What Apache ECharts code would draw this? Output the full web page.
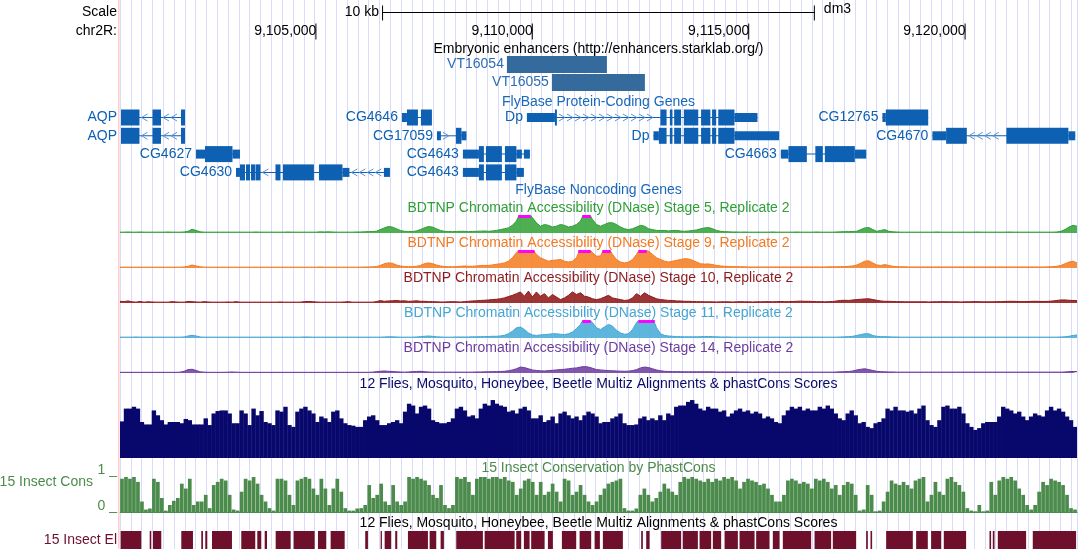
<!DOCTYPE html>
<html><head><meta charset="utf-8">
<script src="https://cdn.jsdelivr.net/npm/echarts@6/dist/echarts.min.js"></script>
<style>html,body{margin:0;padding:0;background:#fff}#c{width:1078px;height:549px}</style>
</head><body><div id="c"></div>
<script>
// ---------------- data ----------------
const VIEW_START = 9100485, VIEW_END = 9122597;
const positionTicks = [9105000, 9110000, 9115000, 9120000];
const scaleBar = [9106540, 9116540];
const scaleLabel = '10 kb';
const assembly = 'dm3';
const enhancerNames = ['VT16054', 'VT16055'];
const enhancerSpans = [[9109425, 9111735], [9110464, 9112613]];
const geneNames = ['AQP','AQP','CG4627','CG4630','CG4646','CG17059','CG4643','CG4643','Dp','Dp','CG4663','CG12765','CG4670'];
const geneRows = [0,1,2,3,0,1,2,3,0,1,2,0,1];
const geneStrands = ['-','-','+','-','-','+','-','-','+','+','-','-','-'];
// blocks: [start, end, thick(1)/utr(0)]
const geneBlocks = [
 [[9100508,9100935,1],[9101236,9101432,1],[9101894,9101987,1]],
 [[9100508,9100935,1],[9101236,9101432,1],[9101894,9101987,1]],
 [[9102241,9102449,0],[9102449,9103084,1],[9103084,9103257,0]],
 [[9103165,9103257,0],[9103257,9103373,1],[9103396,9103488,1],[9103511,9103604,1],[9103615,9103731,1],[9104077,9104193,1],[9104250,9104966,1],[9105082,9105625,1],[9105625,9105786,0],[9106583,9106722,0]],
 [[9106999,9107115,0],[9107115,9107369,1],[9107438,9107692,1]],
 [[9107808,9107900,0],[9108247,9108374,1],[9108374,9108489,0]],
 [[9108408,9108778,0],[9108778,9108893,1],[9108940,9109309,1],[9109379,9109644,1],[9109644,9109771,0],[9109817,9109956,0]],
 [[9108408,9108778,0],[9108778,9108893,1],[9108940,9109309,1],[9109379,9109644,1],[9109644,9109817,0]],
 [[9109887,9110534,0],[9110534,9110580,1],[9112971,9113114,1],[9113190,9113250,1],[9113289,9113449,1],[9113513,9113846,1],[9113911,9114126,1],[9114165,9114260,1],[9114308,9114682,1],[9114682,9115214,0]],
 [[9112811,9112936,0],[9112936,9113114,1],[9113190,9113250,1],[9113289,9113449,1],[9113513,9113846,1],[9113911,9114126,1],[9114165,9114260,1],[9114308,9114682,1],[9114682,9115715,0]],
 [[9115754,9115930,0],[9115930,9116355,1],[9116551,9116724,1],[9116771,9117464,1],[9117464,9117727,0]],
 [[9118101,9118180,0],[9118180,9119159,1]],
 [[9119256,9119573,0],[9119573,9120051,1],[9120965,9122398,1],[9122398,9122557,0]]
];
const dnaseTitles = [
 'BDTNP Chromatin Accessibility (DNase) Stage 5, Replicate 2',
 'BDTNP Chromatin Accessibility (DNase) Stage 9, Replicate 2',
 'BDTNP Chromatin Accessibility (DNase) Stage 10, Replicate 2',
 'BDTNP Chromatin Accessibility (DNase) Stage 11, Replicate 2',
 'BDTNP Chromatin Accessibility (DNase) Stage 14, Replicate 2'
];
const dnaseStage5 = [
 .5,.5,.6,.5,.5,.6,.5,.5,.5,.5,.5,.5,.6,.5,.5,.5,.6,1,2.2,1.5,
 .7,.5,.5,.5,.5,.5,.5,.5,.5,.5,.5,.5,.5,.5,.6,.5,.5,.5,.5,.5,
 .5,.5,.6,.5,.5,.5,.5,.5,.5,.5,.7,.6,.7,.6,.5,.5,.5,.5,.5,.6,
 .6,.7,.8,.9,1,2,3,3.8,3.5,2.5,1.5,1,.9,.9,1.2,2,3,3.8,3.5,2.5,
 1.5,1,.9,.8,.9,1,1,.8,.9,1,1.1,1.2,1,1.2,1.5,2,2.5,3,4.5,7,
 12,12,12,9,6,4,5,4.5,3.5,4,5,4.5,3.5,4,5,7,12,12,8,5,
 4,5,6,6,5,3.5,2.5,2,2.5,3.5,4.5,4,2.5,2,1.5,1.5,1.5,1.2,1.5,1.5,
 1.2,1,1.2,1.5,1.8,2.5,3,3.2,2.5,1.5,1,.8,.7,.6,.6,.5,.6,.5,.5,.5,
 .5,.5,.5,.6,.5,.5,.5,.5,.5,.6,.5,.5,.5,.5,.6,.5,.5,.5,.5,.6,
 .7,.8,.8,.9,1,2,3,3.2,2,1,1.5,2,1,.7,.6,.5,.5,.5,.5,.5,
 .5,.5,.5,.5,.6,.5,.5,.5,.5,.5,.5,.5,.5,.5,.6,.5,.5,.5,.5,.5,
 .5,.5,.6,.5,.5,.5,.5,.5,.5,.5,.5,.5,.5,.5,.6,1,2,3.5,4.5,4
];
const dnaseStage9 = [
 .5,.5,.5,.5,.5,.5,.5,.5,.5,.5,.5,.5,.5,.5,.5,.5,.6,1,1.8,1.2,
 .7,.5,.5,.5,.5,.5,.5,.5,.5,.5,.5,.5,.5,.5,.5,.5,.5,.5,.5,.5,
 .5,.5,.5,.5,.5,.5,.5,.5,.5,.5,.6,.5,.5,.5,.5,.5,.5,.5,.5,.5,
 .5,.6,.6,.7,.8,1.5,2.5,3,2.8,1.8,1.2,.9,.8,.8,1,1.5,2.5,3,2.6,1.8,
 1.2,.9,.8,.7,.8,1,1.2,1,1,1.2,1.4,1.5,1.5,1.8,2.2,2.5,3,4,6,9,
 12,12,12,11,8,6,5,4,4.5,4.7,5,4,3.5,4,6,12,12,12,9,7,
 7,12,12,8,5,3.5,3,3.5,5,8,12,12,10,8,6,5,4,3.5,4,4.5,
 5,5.5,5.3,4.5,3.5,2.5,2.3,2.4,2,1.5,1.2,1,.9,.8,.8,.7,.7,.6,.6,.6,
 .6,.6,.6,.6,.6,.6,.6,.6,.6,.6,.6,.6,.6,.6,.6,.6,.6,.7,.7,.7,
 .8,.8,1,1.2,1.8,2.8,4,4.2,3,1.8,1.5,2,1.5,1,.8,.7,.7,.6,.6,.6,
 .6,.6,.6,.6,.6,.6,.6,.6,.6,.6,.6,.6,.6,.6,.6,.6,.6,.6,.6,.6,
 .6,.6,.6,.6,.6,.6,.6,.6,.6,.6,.6,.6,.7,.8,1,1.5,2.5,3.5,4,3
];
const dnaseStage10 = [
 1,.8,1.2,.7,.5,.9,.5,.7,.6,.5,.5,.5,.5,.8,.6,.5,.5,.9,.8,.6,
 .5,.8,.6,.5,.5,.5,.5,.6,.5,.8,.5,.5,.5,.5,.5,.5,.5,.5,.5,.5,
 .6,.5,.5,.5,.5,.5,.8,.9,.8,.6,.5,.5,.5,.5,.5,.5,.6,.8,.5,.5,
 .5,.5,.5,.5,.8,1.4,1,1.2,1.3,1.5,1.2,1.3,1,1.1,1.3,1,1,.8,.8,.7,
 .6,.6,.7,.8,.7,.6,.8,1,1.2,1.3,1.5,1.6,1.8,2,2.2,2.5,3,3.8,4.5,5.5,
 6.5,4,7,3.5,6.5,4,5.5,3,5,3.5,2,3,4.5,6.5,5,6,4,3.5,2.5,2,
 2.5,3.5,4.5,3,2.5,2,1.5,1.8,3,5.5,4,6,4.5,3.5,2.5,2,1.8,1.5,1.5,1.2,
 1.2,1,1,.9,.8,.8,.7,.7,.7,.6,.7,.7,.7,.6,.7,.8,.7,.7,.6,.7,
 .7,.8,.8,.7,.8,.9,.8,.8,.9,1,1.1,1,1,.9,.8,.8,.7,.8,.9,1.2,
 1.5,1.6,1.5,1.8,2,2.2,2.4,2.5,2,1.6,1.2,1,1,.9,.8,.8,.7,.7,.7,.7,
 .7,.7,.6,.7,.7,.8,.8,.7,.7,.7,.6,.7,.7,.8,.8,.7,.7,.7,.7,.8,
 .8,.9,1,1,.9,.8,.8,.9,1,1,.9,.9,1,1.2,1.5,1.8,1.8,1.6,1.5,1.4
];
const dnaseStage11 = [
 .5,.5,.5,.5,.6,.5,.5,.5,.5,.5,.5,.5,.5,.5,.5,.5,.6,1.2,1.6,1.2,
 .6,.5,.5,.5,.5,.5,.5,.5,.5,.5,.5,.5,.5,.5,.5,.5,.5,.5,.5,.5,
 .5,.5,.5,.5,.5,.5,.6,.6,.5,.5,.5,.5,.5,.5,.5,.5,.5,.5,.5,.5,
 .5,.5,.5,.5,.5,.5,.6,.7,.7,.6,.5,.5,.5,.5,.6,.8,1,1.2,1,.7,
 .6,.5,.5,.5,.6,.6,.6,.6,.7,.7,.8,.8,.9,1,1,1.2,1.6,2.5,4,6,
 6.5,5,3,1.8,1.5,1.8,2,2.2,2.5,2.5,2.2,2,2.5,3.5,5.5,8,12,12,9,6,
 5,6.5,8,7,4.5,3,2.2,2.5,5,9,12,12,12,12,6,2.5,1.5,1.2,1,.8,
 .8,.7,.7,.7,.7,.8,.9,.9,.8,.7,.6,.6,.6,.5,.5,.5,.5,.5,.5,.5,
 .5,.5,.5,.5,.5,.5,.5,.5,.5,.5,.5,.5,.5,.5,.5,.5,.5,.5,.5,.5,
 .6,.7,.8,1,1.5,2,2.5,2.5,1.5,1,.8,.8,.7,.6,.6,.5,.5,.5,.5,.5,
 .5,.5,.5,.5,.5,.5,.5,.5,.5,.5,.5,.5,.5,.5,.5,.5,.5,.5,.5,.5,
 .5,.5,.5,.5,.5,.5,.5,.5,.5,.5,.5,.5,.5,.5,.5,.6,.7,1,1.5,1.8
];
const dnaseStage14 = [
 .4,.4,.4,.4,.4,.4,.4,.4,.4,.4,.4,.4,.4,.4,.4,.5,1,2,2.2,1.5,
 .7,.5,.4,.4,.4,.4,.4,.5,.6,.5,.4,.4,.4,.4,.4,.4,.4,.4,.4,.4,
 .4,.4,.4,.4,.4,.4,.4,.4,.4,.4,.4,.4,.4,.4,.4,.4,.4,.4,.4,.4,
 .4,.4,.4,.5,.8,1,1.2,1,.9,.7,.6,.5,.6,.8,.9,1,.8,.6,.5,.5,
 .5,.5,.5,.5,.5,.5,.5,.5,.5,.6,.6,.7,.7,.8,.8,.9,1,1.3,1.8,2.5,
 3.5,3.2,2.5,1.8,1.5,1.3,1.2,1.4,1.6,1.8,2,2.2,2.5,2.8,3,3.5,3.8,3.5,2.8,2,
 1.8,1.6,1.4,1.3,1.2,1.1,1,1.1,1.4,2,3,3.5,3.2,2.5,1.8,1.3,1,.9,.8,.8,
 .8,.7,.7,.7,.7,.7,.7,.7,.7,.6,.6,.6,.6,.6,.6,.5,.5,.5,.5,.5,
 .5,.5,.5,.5,.5,.5,.5,.5,.5,.5,.5,.5,.5,.5,.5,.5,.5,.5,.5,.6,
 .7,.8,.9,1.2,1.8,2.2,2.5,2,1.5,1,.8,.7,.6,.6,.5,.5,.5,.5,.5,.5,
 .5,.5,.5,.5,.5,.5,.5,.5,.5,.5,.5,.5,.5,.5,.5,.5,.5,.5,.5,.5,
 .5,.5,.5,.5,.5,.5,.5,.5,.5,.5,.5,.5,.5,.5,.5,.5,.6,.8,.9,.8
];
const multizValues = [
 60,81,81,84,81,59,55,55,78,70,62,55,59,59,59,57,64,62,55,55,
 55,65,54,73,77,78,78,73,57,57,78,73,54,81,70,77,59,57,54,78,
 76,84,54,51,76,81,84,78,73,59,68,65,59,76,78,65,57,54,53,51,
 51,62,68,70,62,54,54,57,59,62,57,76,89,86,73,84,86,81,62,59,
 57,57,59,65,81,84,78,68,70,65,81,89,86,95,89,86,84,76,78,73,
 81,84,78,65,65,70,59,62,68,57,73,76,70,65,68,62,70,76,73,68,
 57,59,59,65,68,73,57,54,54,55,65,68,62,65,62,70,62,73,70,84,
 86,86,92,95,89,81,78,84,81,81,76,78,68,73,78,81,76,78,73,76,
 73,65,68,65,59,57,70,78,84,81,84,78,81,78,78,84,81,86,81,73,
 65,62,73,78,70,57,59,51,49,57,59,65,81,78,84,78,78,76,78,73,
 81,86,62,54,51,62,84,86,81,81,84,73,57,51,46,49,57,59,59,59,
 68,84,81,78,73,76,68,62,68,73,70,68,78,84,78,81,76,68,62,51
];
const phastConsValues = [
 .95,1,.95,1,.86,.3,.07,.1,.95,.86,.4,.04,.2,.32,.4,.81,.67,.95,.2,.3,
 .3,.49,.11,.77,.86,.95,.9,.49,.07,.04,.58,.95,.9,1,.81,.49,.3,.11,.04,.95,
 .95,.9,.49,.2,.9,.95,1,.95,.67,.49,.95,.67,.2,.67,.95,.58,.11,.04,.04,.1,
 .11,.2,.77,.4,.49,.81,.3,.2,.77,.3,.2,.3,1,.95,1,.95,.9,.77,.49,.4,
 .77,.2,.11,.2,1,.95,1,.86,.49,.95,1,1,.95,1,1,.95,1,.9,.86,.49,
 .67,.9,.95,.86,.49,.86,.49,.58,.81,.58,.3,.95,.9,.49,.58,.77,.49,.3,.2,.3,
 .49,.67,.81,.86,.9,.95,.11,.04,.04,.1,.49,.67,.49,.3,.4,.58,.81,.67,.58,.49,
 .86,1,.95,1,.95,.9,.86,.95,.86,.95,.9,1,.95,1,.9,.67,.86,.95,.9,.86,
 .77,.81,.67,.49,.3,.3,.49,.9,.95,.9,.81,.86,.81,.67,.95,.9,.95,.86,.67,.77,
 .49,.77,.86,.81,.49,.04,.07,.77,.49,.02,.04,.3,.58,.9,.81,.77,.86,.77,.67,.9,
 .95,1,.3,.49,.86,.58,.49,.95,1,.86,.77,.58,.11,.04,.02,.2,.02,.04,.86,.49,
 .9,1,.95,1,.9,.67,.49,.2,.07,.2,.58,.86,.77,.95,.9,.86,.77,.49,.11,.07
];
const elementSpans = [
 [9100501,9100977],[9101171,9101208],[9101247,9101439],[9101901,9102171],[9102363,9102402],[9102455,9102502],
 [9102610,9103072],[9103287,9103610],[9103657,9103749],[9103828,9103881],[9104082,9104428],[9104497,9104983],
 [9105059,9105251],[9105352,9105676],[9106151,9106214],[9106507,9106537],[9106600,9106752],[9106844,9106891],
 [9107138,9107600],[9107639,9107792],[9107893,9107969],[9108254,9108870],[9108910,9109603],[9109640,9109755],
 [9109817,9109949],[9109986,9110296],[9110372,9110487],[9110695,9111026],[9111104,9111372],[9111451,9111573],
 [9111642,9112104],[9112527,9112566],[9112643,9112721],[9112989,9113451],[9113490,9113837],[9113876,9114144],
 [9114183,9114375],[9114454,9114761],[9114800,9115147],[9115184,9115493],[9115569,9115724],[9115800,9116454],
 [9116533,9116916],[9116955,9117494],[9117725,9117764],[9117826,9117863],[9118187,9118803],[9118880,9119150],
 [9119226,9119457],[9119519,9120035],[9120575,9120612],[9120651,9120691],[9120767,9121421],[9121575,9122576]
];

// ---------------- styling / layout ----------------
const FONT = '14px "Liberation Sans", Arial, Helvetica, sans-serif';
const L = 120, W = 957;
const GENE = '#0d60b2';
const dnaseColors = ['#2f9e35', '#f47a20', '#8e1b1b', '#46a6d2', '#6c3d9c'];
const dnaseFills  = ['#3aa63f', '#f5822b', '#931f1f', '#4eaed8', '#7444a3'];
const dnaseBottoms = [233, 268, 303, 338, 373];
const dnaseTitleY = [208, 243, 278, 313, 348];
const DNASE_H = 17, DNASE_MAX = 10;
const dnaseData = [dnaseStage5, dnaseStage9, dnaseStage10, dnaseStage11, dnaseStage14];

function txt(text, x, y, fill, align, extra) {
  return Object.assign({ type: 'text', x: x, y: y, z: 50,
    style: { text: text, fill: fill, font: FONT, align: align || 'center', verticalAlign: 'middle',
             textAlign: align || 'center', textVerticalAlign: 'middle' } }, extra || {});
}

const grids = [], xAxes = [], yAxes = [], series = [];
function addGrid(top, height) { grids.push({ left: L, width: W, top: top, height: height, containLabel: false }); return grids.length - 1; }
const hidden = { show: false };

// 0: guidelines
let g = addGrid(0, 549);
xAxes.push({ gridIndex: g, type: 'value', min: 0, max: W / 10.81, interval: 1,
  axisLine: hidden, axisTick: hidden, axisLabel: hidden,
  splitLine: { show: true, lineStyle: { color: '#dadafa', width: 1 } } });
yAxes.push({ gridIndex: g, type: 'value', show: false });

// 1: header (scale bar + positions)
g = addGrid(3, 38);
xAxes.push({ gridIndex: g, type: 'value', min: VIEW_START, max: VIEW_END, show: false });
yAxes.push({ gridIndex: g, type: 'category', data: ['scale', 'pos'], inverse: true, show: false });
series.push({ type: 'custom', xAxisIndex: 1, yAxisIndex: 1, silent: true, z: 10,
  data: [[scaleBar[0], scaleBar[1], 0]],
  renderItem: function (p, api) {
    const a = api.coord([api.value(0), 0]), b = api.coord([api.value(1), 0]);
    const y = a[1];
    return { type: 'group', children: [
      { type: 'rect', shape: { x: a[0], y: y - 0.5, width: b[0] - a[0], height: 1 }, style: { fill: '#000' } },
      { type: 'rect', shape: { x: a[0], y: y - 7, width: 1, height: 15 }, style: { fill: '#000' } },
      { type: 'rect', shape: { x: b[0] - 1, y: y - 7, width: 1, height: 15 }, style: { fill: '#000' } },
      txt(scaleLabel, a[0] - 3, y, '#000', 'right'),
      txt(assembly, b[0] + 9, y - 3, '#000', 'left')
    ] };
  } });
series.push({ type: 'custom', xAxisIndex: 1, yAxisIndex: 1, silent: true, z: 10,
  data: positionTicks.map(v => [v, 1]),
  renderItem: function (p, api) {
    const c = api.coord([api.value(0), 1]);
    return { type: 'group', children: [
      { type: 'rect', shape: { x: c[0], y: c[1] - 8, width: 1, height: 16 }, style: { fill: '#000' } },
      txt(api.value(0).toLocaleString('en-US'), c[0] + 1, c[1], '#000', 'right')
    ] };
  } });

// 2: enhancers
g = addGrid(55.5, 36);
xAxes.push({ gridIndex: g, type: 'value', min: VIEW_START, max: VIEW_END, show: false });
yAxes.push({ gridIndex: g, type: 'category', data: enhancerNames, inverse: true, show: false });
series.push({ type: 'custom', xAxisIndex: 2, yAxisIndex: 2, silent: true, z: 10,
  data: enhancerSpans.map((s, i) => [s[0], s[1], i]),
  renderItem: function (p, api) {
    const a = api.coord([api.value(0), api.value(2)]), b = api.coord([api.value(1), api.value(2)]);
    return { type: 'group', children: [
      { type: 'rect', shape: { x: a[0], y: a[1] - 8.5, width: b[0] - a[0], height: 17 }, style: { fill: '#356a9c' } },
      txt(enhancerNames[p.dataIndex], a[0] - 3, a[1], '#2e6db3', 'right')
    ] };
  } });

// 3: genes
g = addGrid(108.35, 73.2);
xAxes.push({ gridIndex: g, type: 'value', min: VIEW_START, max: VIEW_END, show: false });
yAxes.push({ gridIndex: g, type: 'category', data: ['r0', 'r1', 'r2', 'r3'], inverse: true, show: false });
series.push({ type: 'custom', xAxisIndex: 3, yAxisIndex: 3, silent: true, z: 10, clip: false,
  data: geneNames.map((n, i) => [geneBlocks[i][0][0], geneBlocks[i][geneBlocks[i].length - 1][1], geneRows[i]]),
  renderItem: function (p, api) {
    const gi = p.dataIndex, row = geneRows[gi], blocks = geneBlocks[gi];
    const X = v => api.coord([v, row])[0];
    const y = api.coord([blocks[0][0], row])[1];
    const ch = [];
    const x0 = X(blocks[0][0]), x1 = X(blocks[blocks.length - 1][1]);
    ch.push({ type: 'rect', shape: { x: x0, y: y - 0.5, width: x1 - x0, height: 1 }, style: { fill: GENE } });
    for (let k = 0; k < blocks.length - 1; k++) {
      const a = X(blocks[k][1]), b = X(blocks[k + 1][0]);
      if (b - a > 10) {
        for (let cx = a + 5; cx < b - 3; cx += 8) {
          const d = geneStrands[gi] === '-' ? 3 : -3;
          ch.push({ type: 'polyline', shape: { points: [[cx + d, y - 3.5], [cx - d, y], [cx + d, y + 3.5]] },
            style: { stroke: '#5e93d2', lineWidth: 1, fill: null } });
        }
      }
    }
    blocks.forEach(bl => {
      const xa = X(bl[0]), xb = X(bl[1]); const h = bl[2] ? 16 : 9;
      ch.push({ type: 'rect', shape: { x: xa, y: y - h / 2, width: Math.max(1, xb - xa), height: h }, style: { fill: GENE } });
    });
    ch.push(txt(geneNames[gi], x0 - 4, y, GENE, 'right'));
    return { type: 'group', children: ch };
  } });

// 4-8: DNase tracks
dnaseData.forEach((arr, k) => {
  const gi = addGrid(dnaseBottoms[k] - DNASE_H, DNASE_H);
  xAxes.push({ gridIndex: gi, type: 'category', data: arr.map((_, i) => i), boundaryGap: false, show: false });
  yAxes.push({ gridIndex: gi, type: 'value', min: 0, max: DNASE_MAX, show: false });
  series.push({ type: 'line', xAxisIndex: gi, yAxisIndex: gi, data: arr, showSymbol: false, symbol: 'none',
    silent: true, z: 5, lineStyle: { color: dnaseColors[k], width: 1 },
    areaStyle: { color: dnaseFills[k], opacity: 0.9 } });
  series.push({ type: 'custom', xAxisIndex: gi, yAxisIndex: gi, silent: true, z: 6,
    data: arr.map((v, i) => [i, v]),
    renderItem: function (p, api) {
      if (api.value(1) <= DNASE_MAX) return null;
      const c = api.coord([api.value(0), DNASE_MAX]);
      return { type: 'rect', shape: { x: c[0] - 2.2, y: c[1] - 1, width: 4.4, height: 3 }, style: { fill: '#ff00ff' } };
    } });
});

// 9: multiz
g = addGrid(397, 61);
xAxes.push({ gridIndex: g, type: 'category', data: multizValues.map((_, i) => i), show: false });
yAxes.push({ gridIndex: g, type: 'value', min: 0, max: 100, show: false });
series.push({ type: 'bar', xAxisIndex: g, yAxisIndex: g, data: multizValues, barWidth: 4.4, silent: true, z: 5,
  itemStyle: { color: '#07076c' } });

// 10: phastCons
g = addGrid(477, 35);
xAxes.push({ gridIndex: g, type: 'category', data: phastConsValues.map((_, i) => i), show: true,
  axisLine: { show: true, lineStyle: { color: '#4b8b4b', width: 1 } }, axisTick: hidden, axisLabel: hidden });
yAxes.push({ gridIndex: g, type: 'value', min: 0, max: 1, show: false });
series.push({ type: 'bar', xAxisIndex: g, yAxisIndex: g, data: phastConsValues, barWidth: 3.7, silent: true, z: 5,
  itemStyle: { color: '#4b8b4b' } });

// 11: elements
g = addGrid(531, 18);
xAxes.push({ gridIndex: g, type: 'value', min: VIEW_START, max: VIEW_END, show: false });
yAxes.push({ gridIndex: g, type: 'value', min: 0, max: 1, show: false });
series.push({ type: 'custom', xAxisIndex: g, yAxisIndex: g, silent: true, z: 5,
  data: elementSpans.map(s => [s[0], s[1]]),
  renderItem: function (p, api) {
    const a = api.coord([api.value(0), 1]), b = api.coord([api.value(1), 0]);
    return { type: 'rect', shape: { x: a[0], y: a[1], width: Math.max(1.2, b[0] - a[0]), height: b[1] - a[1] },
      style: { fill: '#6e0f2c' } };
  } });

// ---------------- texts ----------------
const CX = L + W / 2;
const graphics = [
  { type: 'rect', x: 118, y: 0, z: 1, shape: { width: 1.6, height: 549 }, style: { fill: '#ffcfcf' } },
  txt('Scale', 117, 12, '#000', 'right'),
  txt('chr2R:', 117, 31, '#000', 'right'),
  txt('Embryonic enhancers (http://enhancers.starklab.org/)', CX, 49.5, '#000'),
  txt('FlyBase Protein-Coding Genes', CX, 102, '#1a68b8'),
  txt('FlyBase Noncoding Genes', CX, 190, '#1a68b8'),
  txt('12 Flies, Mosquito, Honeybee, Beetle Multiz Alignments & phastCons Scores', CX, 384, '#0a0a6a'),
  txt('15 Insect Conservation by PhastCons', CX, 468, '#4b8b4b'),
  txt('15 Insect Cons', 93, 482, '#4b8b4b', 'right'),
  txt('1 _', 117, 470, '#4b8b4b', 'right'),
  txt('0 _', 117, 506, '#4b8b4b', 'right'),
  txt('12 Flies, Mosquito, Honeybee, Beetle Multiz Alignments & phastCons Scores', CX, 523, '#000'),
  txt('15 Insect El', 117, 540, '#6e0f2c', 'right')
];
dnaseTitles.forEach((t, k) => graphics.push(txt(t, CX, dnaseTitleY[k], dnaseColors[k])));

const chart = echarts.init(document.getElementById('c'), null, { renderer: 'canvas', width: 1078, height: 549 });
chart.setOption({
  animation: false,
  backgroundColor: '#fff',
  grid: grids, xAxis: xAxes, yAxis: yAxes, series: series,
  graphic: graphics
});
</script>
</body></html>
